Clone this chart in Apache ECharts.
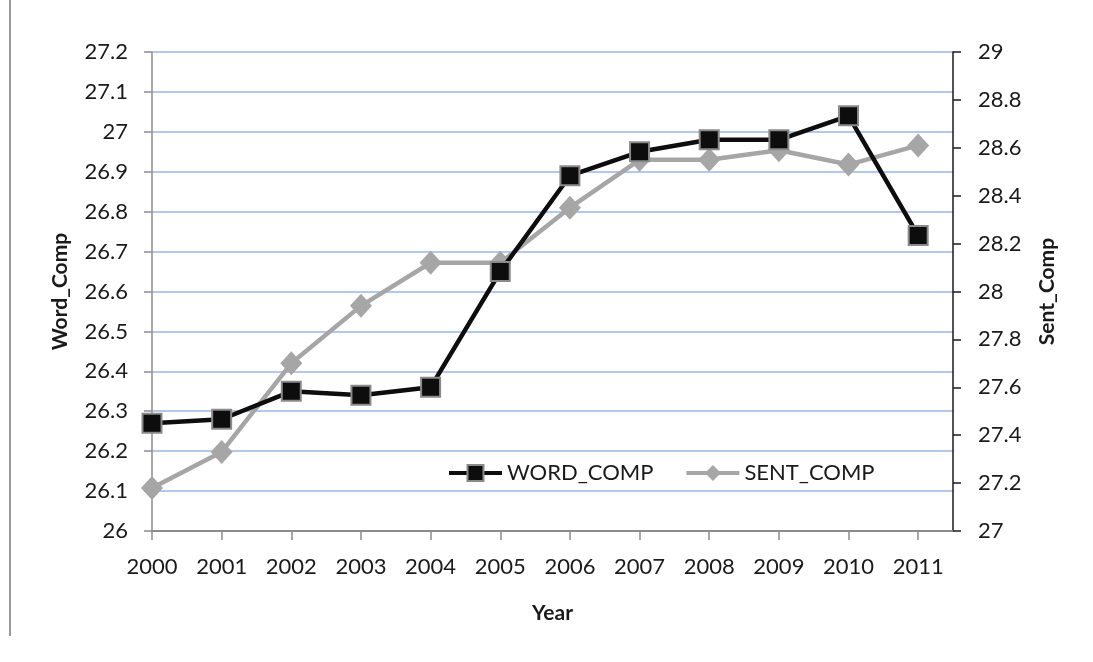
<!DOCTYPE html>
<html>
<head>
<meta charset="utf-8">
<title>Word_Comp and Sent_Comp by Year</title>
<script src="https://cdn.jsdelivr.net/npm/echarts@6/dist/echarts.min.js"></script>
<style>
  html, body { margin: 0; padding: 0; background: #ffffff; }
  #chart { width: 1093px; height: 662px; }
</style>
</head>
<body>
<div id="chart"></div>
<script>
// Yearly averages: word-level score (left axis) and sentence-level score (right axis)
const years = [2000, 2001, 2002, 2003, 2004, 2005, 2006, 2007, 2008, 2009, 2010, 2011];
const wordComp = [26.27, 26.28, 26.35, 26.34, 26.36, 26.65, 26.89, 26.95, 26.98, 26.98, 27.04, 26.74];
const sentComp = [27.18, 27.33, 27.70, 27.94, 28.12, 28.12, 28.35, 28.55, 28.55, 28.59, 28.53, 28.61];

const FONT = 'Lato, "Open Sans", sans-serif';
const pairs = (vals) => years.map((y, i) => [y, vals[i]]);

const chart = echarts.init(document.getElementById('chart'), null, { renderer: 'canvas' });

chart.setOption({
  backgroundColor: '#ffffff',
  animation: false,
  textStyle: { fontFamily: FONT },
  graphic: [{
    type: 'line',
    shape: { x1: 10, y1: 0, x2: 10, y2: 636 },
    style: { stroke: '#9a9a9a', lineWidth: 2 }
  }],
  grid: { left: 152, right: 140, top: 52, bottom: 131 },
  legend: {
    left: 447,
    top: 462,
    padding: 0,
    itemGap: 31,
    itemWidth: 53,
    itemHeight: 20,
    lineStyle: { width: 4 },
    textStyle: { fontFamily: FONT, fontSize: 22, color: '#1a1a1a' },
    data: ['WORD_COMP', 'SENT_COMP']
  },
  xAxis: {
    type: 'value',
    min: 2000,
    max: 2011.5,
    interval: 1,
    name: 'Year',
    nameLocation: 'middle',
    nameGap: 72,
    nameTextStyle: { fontFamily: FONT, fontSize: 21, fontWeight: 'bold', color: '#1a1a1a' },
    axisLine: { show: true, lineStyle: { color: '#8c8c8c', width: 2 } },
    axisTick: { show: true, length: 9, lineStyle: { color: '#8c8c8c', width: 1.5 } },
    axisLabel: {
      margin: 25,
      fontFamily: FONT,
      fontSize: 22,
      color: '#1a1a1a',
      showMaxLabel: false,
      formatter: (v) => (Number.isInteger(v) ? String(v) : '')
    },
    splitLine: { show: false }
  },
  yAxis: [{
    type: 'value',
    min: 26,
    max: 27.2,
    interval: 0.1,
    position: 'left',
    name: 'Word_Comp',
    nameLocation: 'middle',
    nameRotate: 90,
    nameGap: 81,
    nameTextStyle: { fontFamily: FONT, fontSize: 21, fontWeight: 'bold', color: '#1a1a1a' },
    axisLine: { show: true, lineStyle: { color: '#8c8c8c', width: 1.5 } },
    axisTick: { show: true, inside: false, length: 8, lineStyle: { color: '#8c8c8c', width: 1.5 } },
    axisLabel: {
      margin: 24,
      fontFamily: FONT,
      fontSize: 22,
      color: '#1a1a1a',
      formatter: (v) => String(Math.round(v * 10) / 10)
    },
    splitLine: { show: true, lineStyle: { color: '#b3c8ea', width: 2 } }
  }, {
    type: 'value',
    min: 27,
    max: 29,
    interval: 0.2,
    position: 'right',
    name: 'Sent_Comp',
    nameLocation: 'middle',
    nameRotate: 90,
    nameGap: 84,
    nameTextStyle: { fontFamily: FONT, fontSize: 21, fontWeight: 'bold', color: '#1a1a1a' },
    axisLine: { show: true, lineStyle: { color: '#1a1a1a', width: 1.5 } },
    axisTick: { show: true, inside: false, length: 8, lineStyle: { color: '#1a1a1a', width: 1.5 } },
    axisLabel: {
      margin: 25,
      fontFamily: FONT,
      fontSize: 22,
      color: '#1a1a1a',
      formatter: (v) => String(Math.round(v * 10) / 10)
    },
    splitLine: { show: false }
  }],
  series: [{
    name: 'WORD_COMP',
    type: 'line',
    yAxisIndex: 0,
    data: pairs(wordComp),
    symbol: 'rect',
    symbolSize: 19,
    lineStyle: { color: '#0d0d0d', width: 4.5 },
    itemStyle: { color: '#0d0d0d', borderColor: '#8a8a8a', borderWidth: 2 },
    z: 3
  }, {
    name: 'SENT_COMP',
    type: 'line',
    yAxisIndex: 1,
    data: pairs(sentComp),
    symbol: 'diamond',
    symbolSize: [22, 24],
    lineStyle: { color: '#a6a6a6', width: 4.5 },
    itemStyle: { color: '#a6a6a6', borderColor: '#a6a6a6', borderWidth: 0 },
    z: 2
  }]
});
</script>
</body>
</html>
